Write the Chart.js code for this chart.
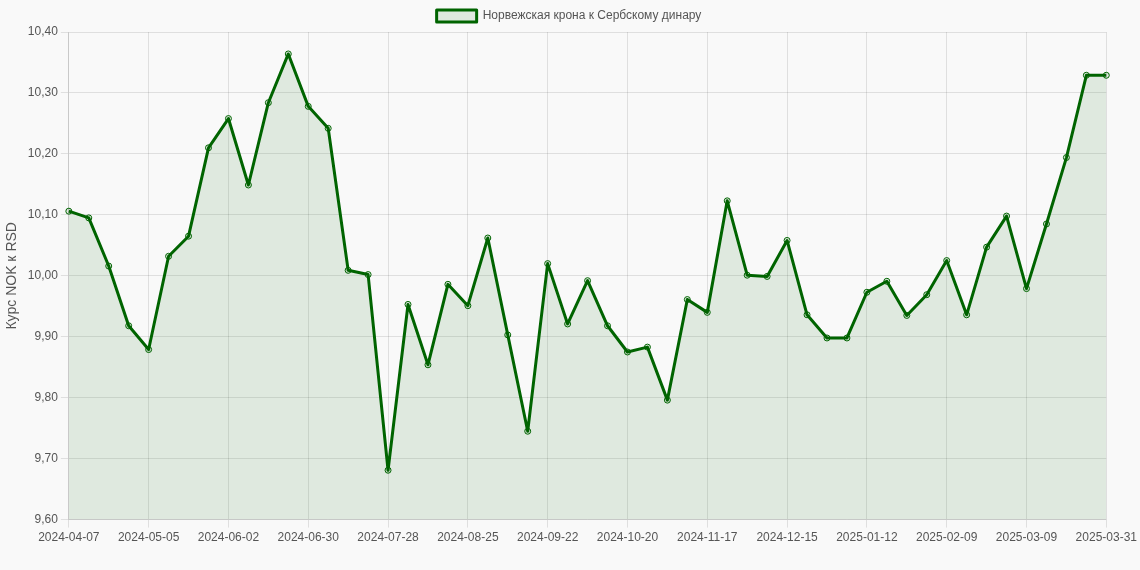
<!DOCTYPE html>
<html>
<head>
<meta charset="utf-8">
<script src="https://cdn.jsdelivr.net/npm/chart.js@4"></script>
<style>
  html, body { margin: 0; padding: 0; background: #f9f9f9; }
  #wrap { width: 1140px; height: 570px; }
</style>
</head>
<body>
<div id="wrap"><canvas id="rateChart"></canvas></div>
<script>
// Weekly dates (last point is 2025-03-31)
const startDate = new Date(Date.UTC(2024, 3, 7));
const dates = [];
for (let i = 0; i < 52; i++) {
  const d = new Date(startDate.getTime() + i * 7 * 86400000);
  dates.push(d.toISOString().slice(0, 10));
}
dates.push('2025-03-31');

const rates = [
  10.106, 10.095, 10.016, 9.918, 9.879, 10.032, 10.065, 10.210, 10.258, 10.149,
  10.284, 10.364, 10.278, 10.242, 10.009, 10.002, 9.681, 9.953, 9.854, 9.986,
  9.951, 10.062, 9.903, 9.745, 10.020, 9.921, 9.992, 9.918, 9.875, 9.883,
  9.796, 9.961, 9.940, 10.123, 10.001, 9.999, 10.058, 9.936, 9.898, 9.898,
  9.973, 9.991, 9.935, 9.969, 10.025, 9.936, 10.047, 10.098, 9.979, 10.085,
  10.194, 10.329, 10.329
];

const seriesLabel = 'Норвежская крона к Сербскому динару';
const axisTitle = 'Курс NOK к RSD';

Chart.defaults.font.family = "'Liberation Sans', Arial, sans-serif";
Chart.defaults.color = '#555';

const ctx = document.getElementById('rateChart').getContext('2d');
const rateChart = new Chart(ctx, {
  type: 'line',
  data: {
    labels: dates,
    datasets: [{
      label: seriesLabel,
      data: rates,
      borderColor: '#006400',
      backgroundColor: 'rgba(0,100,0,0.1)',
      borderWidth: 3,
      borderJoinStyle: 'round',
      fill: true,
      tension: 0,
      pointRadius: 3,
      pointBorderWidth: 1,
      pointBackgroundColor: 'rgba(0,100,0,0.1)',
      pointBorderColor: '#006400'
    }]
  },
  options: {
    responsive: true,
    maintainAspectRatio: false,
    animation: false,
    layout: { padding: { left: 0, right: 2, top: 0, bottom: 22 } },
    plugins: {
      legend: {
        labels: { font: { size: 12 }, boxWidth: 40 }
      }
    },
    scales: {
      x: {
        ticks: {
          maxRotation: 0,
          autoSkip: false,
          font: { size: 12 },
          callback: function (val, i) {
            return (i % 4 === 0 || i === dates.length - 1) ? dates[i] : null;
          }
        },
        grid: { color: 'rgba(0,0,0,0.1)' }
      },
      y: {
        min: 9.6,
        max: 10.4,
        ticks: {
          stepSize: 0.1,
          font: { size: 12 },
          callback: v => v.toFixed(2).replace('.', ',')
        },
        title: { display: true, text: axisTitle, font: { size: 14 } },
        grid: { color: 'rgba(0,0,0,0.1)' }
      }
    }
  }
});
</script>
</body>
</html>
